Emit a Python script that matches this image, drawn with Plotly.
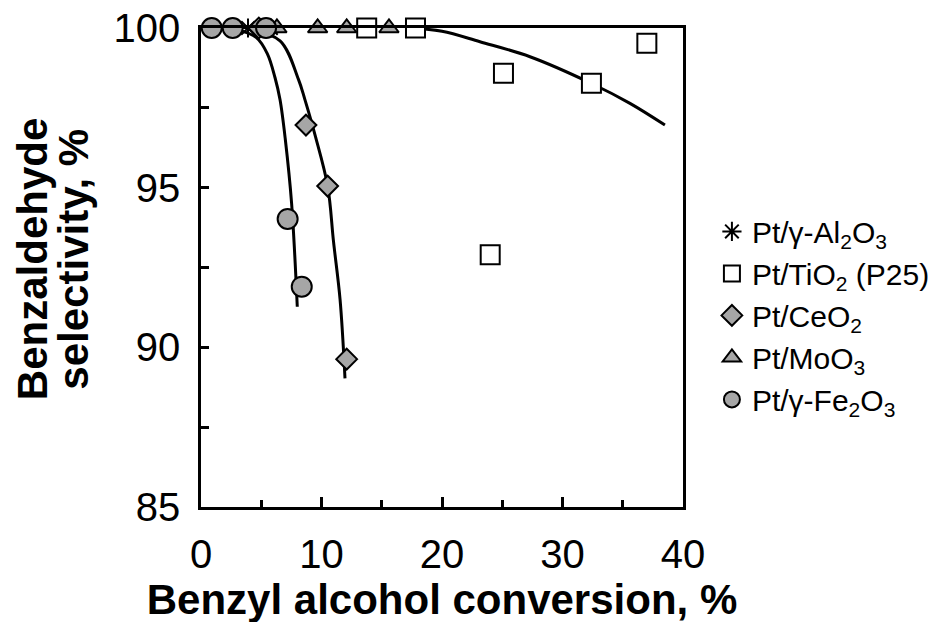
import plotly.graph_objects as go

# ---- data ----
al2o3_x = [3.9, 5.8]
al2o3_y = [100, 100]

tio2_x = [13.75, 17.8, 25.1, 32.4, 37.0, 24.0]
tio2_y = [100, 100, 98.58, 98.27, 99.52, 92.9]

ceo2_x = [4.8, 8.71, 10.51, 12.09]
ceo2_y = [100, 96.96, 95.05, 89.63]

moo3_x = [6.3, 9.68, 12.09, 15.6]
moo3_y = [100, 100, 100, 100]

fe2o3_x = [0.89, 2.63, 5.4, 7.19, 8.36]
fe2o3_y = [100, 100, 100, 94.02, 91.9]

# fitted guide curves
fit_fe_x = [3.0, 4.6, 5.5, 6.14, 6.56, 7.0, 7.52, 7.99]
fit_fe_y = [99.95, 99.7, 99.2, 98.45, 97.75, 96.5, 94.5, 91.27]

fit_ce_x = [4.0, 6.56, 8.08, 8.63, 9.5, 10.51, 11.0, 11.54, 11.95]
fit_ce_y = [99.95, 99.6, 98.4, 97.75, 96.6, 95.05, 93.3, 91.5, 89.03]

fit_ti_x = [17.0, 20.0, 23.15, 27.3, 32.37, 35.6, 38.5]
fit_ti_y = [100.0, 99.9, 99.57, 99.1, 98.27, 97.64, 96.96]

x_ticks = [0, 10, 20, 30, 40]
y_ticks = [85, 90, 95, 100]

GRAY = "#a6a6a6"
FONT = "Liberation Sans, Arial, sans-serif"

fig = go.Figure()

for fx, fy in [(fit_fe_x, fit_fe_y), (fit_ce_x, fit_ce_y), (fit_ti_x, fit_ti_y)]:
    fig.add_trace(go.Scatter(x=fx, y=fy, mode="lines", line=dict(color="black", width=3, shape="spline"),
                             showlegend=False, hoverinfo="skip", cliponaxis=False))

fig.add_trace(go.Scatter(x=al2o3_x, y=al2o3_y, mode="markers", name="Pt/γ-Al<sub>2</sub>O<sub>3</sub>",
                         marker=dict(symbol="asterisk-open", size=16, color="black", line=dict(color="black", width=2)),
                         cliponaxis=False))
fig.add_trace(go.Scatter(x=tio2_x, y=tio2_y, mode="markers", name="Pt/TiO<sub>2</sub> (P25)",
                         marker=dict(symbol="square", size=19, color="white", line=dict(color="black", width=2)),
                         cliponaxis=False))
fig.add_trace(go.Scatter(x=ceo2_x, y=ceo2_y, mode="markers", name="Pt/CeO<sub>2</sub>",
                         marker=dict(symbol="diamond", size=16, color=GRAY, line=dict(color="black", width=2)),
                         cliponaxis=False))
fig.add_trace(go.Scatter(x=moo3_x, y=moo3_y, mode="markers", name="Pt/MoO<sub>3</sub>",
                         marker=dict(symbol="triangle-up", size=17, color=GRAY, line=dict(color="black", width=2)),
                         cliponaxis=False))
fig.add_trace(go.Scatter(x=fe2o3_x, y=fe2o3_y, mode="markers", name="Pt/γ-Fe<sub>2</sub>O<sub>3</sub>",
                         marker=dict(symbol="circle", size=20, color=GRAY, line=dict(color="black", width=2)),
                         cliponaxis=False))

# page body has an 8px default margin, so the figure is shifted by 8px
fig.update_layout(
    width=950, height=622,
    margin=dict(l=193, r=275, t=20, b=123, autoexpand=False),
    plot_bgcolor="white", paper_bgcolor="white",
    font=dict(family=FONT, color="black"),
    legend=dict(x=1.06, y=0.40, xanchor="left", yanchor="middle",
                font=dict(size=30, family=FONT), bgcolor="rgba(0,0,0,0)",
                itemwidth=30, tracegroupgap=0),
    xaxis=dict(range=[0, 40], tickvals=x_ticks, showgrid=False, zeroline=False, automargin=False,
               showline=True, linecolor="black", linewidth=2.5, mirror=True,
               ticks="inside", ticklen=10, tickwidth=2.5, tickcolor="black",
               minor=dict(dtick=5, ticks="inside", ticklen=7, tickwidth=2.5, tickcolor="black"),
               tickfont=dict(size=40), ticklabelstandoff=10, ticklabeloverflow="allow",
               title=dict(text="<b>Benzyl alcohol conversion, %</b>", font=dict(size=42), standoff=1)),
    yaxis=dict(range=[85, 100], tickvals=y_ticks, showgrid=False, zeroline=False, automargin=False,
               showline=True, linecolor="black", linewidth=2.5, mirror=True,
               ticks="inside", ticklen=8, tickwidth=2.5, tickcolor="black",
               minor=dict(dtick=2.5, ticks="inside", ticklen=8, tickwidth=2.5, tickcolor="black"),
               tickfont=dict(size=40), ticklabelstandoff=10, ticklabeloverflow="allow"),
)

fig.add_annotation(text="<b>Benzaldehyde</b>", xref="paper", yref="paper", x=-0.348, y=0.518,
                   textangle=-90, showarrow=False, font=dict(size=42), xanchor="center", yanchor="middle")
fig.add_annotation(text="<b>selectivity, %</b>", xref="paper", yref="paper", x=-0.264, y=0.518,
                   textangle=-90, showarrow=False, font=dict(size=42), xanchor="center", yanchor="middle")

fig.write_html("out.html")
